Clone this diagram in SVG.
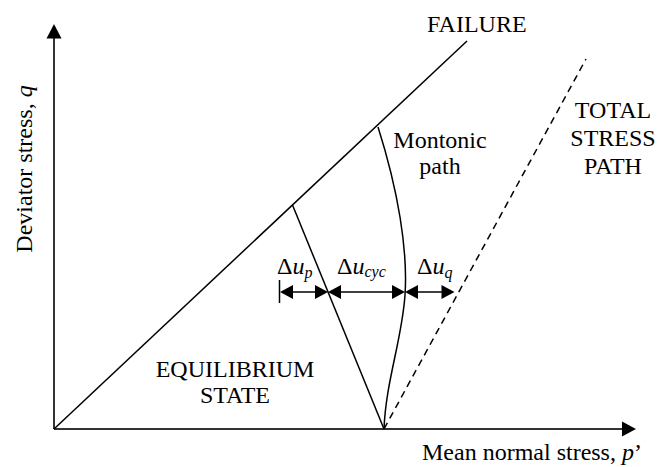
<svg xmlns="http://www.w3.org/2000/svg" width="659" height="467" viewBox="0 0 659 467">
<style>
text { font-family: "Liberation Serif", "Times New Roman", serif; font-size: 24px; fill: #000; }
.it { font-style: italic; }
.sub { font-style: italic; font-size: 16px; }
.ln { stroke: #000; stroke-width: 1.5; fill: none; }
.ax { stroke: #333; stroke-width: 2; fill: none; }
.dash { stroke: #000; stroke-width: 1.5; fill: none; stroke-dasharray: 7 5; }
.dim { stroke: #000; stroke-width: 1.5; fill: none; }
.head { fill: #000; stroke: none; }
</style>
<rect width="659" height="467" fill="#fff"/>
<g id="axes">
  <line class="ax" x1="54" y1="429" x2="54" y2="36"/>
  <polygon class="head" points="54,24 46.5,38.5 61.5,38.5"/>
  <line class="ax" x1="54" y1="429" x2="622" y2="429"/>
  <polygon class="head" points="636,429 622,421.5 622,436.5"/>
  <text id="ylabel" transform="translate(32,169) rotate(-90)" text-anchor="middle">Deviator stress, <tspan class="it">q</tspan></text>
  <text id="xlabel" x="422" y="460">Mean normal stress, <tspan class="it">p</tspan>’</text>
</g>
<g id="connectors">
  <line id="failure-line" class="ln" x1="54" y1="429" x2="467" y2="41"/>
  <line id="total-stress-path" class="dash" x1="384" y1="429" x2="586" y2="59"/>
  <path id="monotonic-path" class="ln" d="M378,127 C398,190 408,250 405,295 C402,340 386,380 384,429"/>
  <line id="cyclic-path" class="ln" x1="292.5" y1="205" x2="384" y2="429"/>
  <line class="dim" x1="279.5" y1="280" x2="279.5" y2="303"/>
  <line class="dim" x1="292" y1="292" x2="316" y2="292"/>
  <polygon class="head" points="280,292 293,285 293,299"/>
  <polygon class="head" points="328,292 315,285 315,299"/>
  <line class="dim" x1="340" y1="292" x2="393" y2="292"/>
  <polygon class="head" points="328,292 341,285 341,299"/>
  <polygon class="head" points="405,292 392,285 392,299"/>
  <line class="dim" x1="417" y1="292" x2="442" y2="292" stroke="#444"/>
  <polygon class="head" points="405,292 418,285 418,299"/>
  <polygon class="head" points="454.5,292 441.5,285 441.5,299"/>
</g>
<g id="failure-label"><text x="427" y="32">FAILURE</text></g>
<g id="monotonic-label">
  <text x="440" y="148" text-anchor="middle">Montonic</text>
  <text x="440" y="174" text-anchor="middle">path</text>
</g>
<g id="total-label">
  <text x="613" y="118" text-anchor="middle">TOTAL</text>
  <text x="613" y="146" text-anchor="middle">STRESS</text>
  <text x="613" y="174" text-anchor="middle">PATH</text>
</g>
<g id="equilibrium-label">
  <text x="235" y="377" text-anchor="middle">EQUILIBRIUM</text>
  <text x="235" y="403" text-anchor="middle">STATE</text>
</g>
<g id="du-p"><text x="277" y="274">Δ<tspan class="it">u</tspan><tspan class="sub" dy="4">p</tspan></text></g>
<g id="du-cyc"><text x="337" y="274">Δ<tspan class="it">u</tspan><tspan class="sub" dy="3">cyc</tspan></text></g>
<g id="du-q"><text x="417" y="274">Δ<tspan class="it">u</tspan><tspan class="sub" dy="4">q</tspan></text></g>
</svg>
